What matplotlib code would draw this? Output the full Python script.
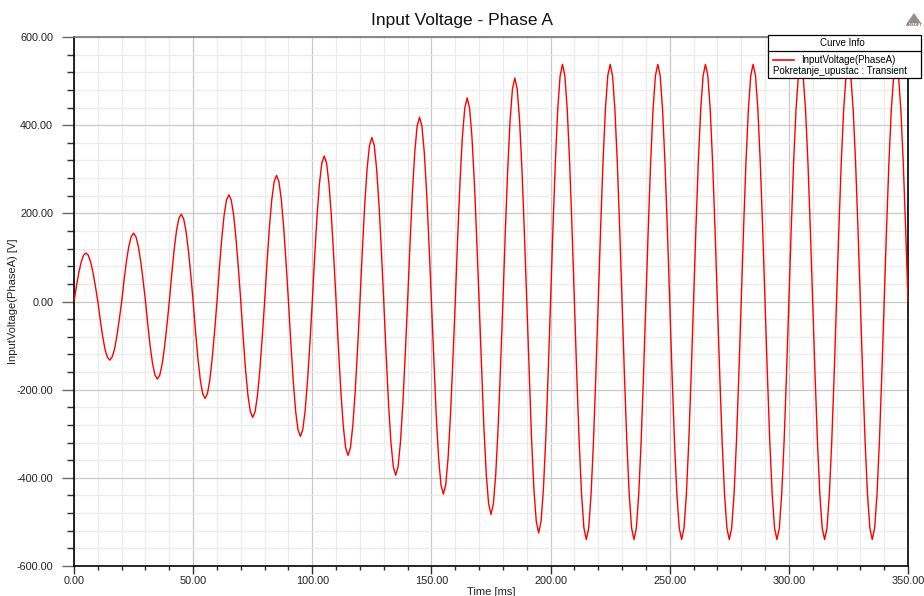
import numpy as np
import matplotlib
matplotlib.use("Agg")
import matplotlib.pyplot as plt
from matplotlib.ticker import MultipleLocator, FormatStrFormatter
from matplotlib.patches import Rectangle, Polygon
from matplotlib.lines import Line2D

plt.rcParams["font.family"] = ["Liberation Sans", "DejaVu Sans"]

# ---------------- data ----------------
title = "Input Voltage - Phase A"
x_label = "Time [ms]"
y_label = "InputVoltage(PhaseA) [V]"
legend_title = "Curve Info"
series_name = "InputVoltage(PhaseA)"
setup_name = "Pokretanje_upustac : Transient"

sample_step_ms = 1.0
# InputVoltage(PhaseA) samples in V, one row per 10 ms half-cycle
voltage_rows = [
    [0, 34, 65, 89, 105, 110, 105, 89, 65, 34],
    [0, -41, -78, -108, -126, -133, -126, -108, -78, -41],
    [0, 48, 91, 125, 147, 155, 147, 125, 91, 48],
    [0, -54, -103, -142, -167, -176, -167, -142, -103, -54],
    [0, 61, 116, 160, 188, 198, 188, 160, 116, 61],
    [0, -68, -129, -178, -209, -220, -209, -178, -129, -68],
    [0, 75, 142, 196, 230, 242, 230, 196, 142, 75],
    [0, -81, -155, -213, -250, -263, -250, -213, -155, -81],
    [0, 88, 168, 231, 272, 286, 272, 231, 168, 88],
    [0, -95, -180, -248, -291, -306, -291, -248, -180, -95],
    [0, 102, 194, 267, 314, 330, 314, 267, 194, 102],
    [0, -108, -205, -282, -332, -349, -332, -282, -205, -108],
    [0, 115, 219, 301, 354, 372, 354, 301, 219, 115],
    [0, -122, -232, -319, -375, -394, -375, -319, -232, -122],
    [0, 129, 246, 338, 398, 418, 398, 338, 246, 129],
    [0, -135, -257, -354, -416, -437, -416, -354, -257, -135],
    [0, 143, 272, 374, 439, 462, 439, 374, 272, 143],
    [0, -149, -284, -391, -459, -483, -459, -391, -284, -149],
    [0, 157, 298, 410, 482, 507, 482, 410, 298, 157],
    [0, -162, -309, -425, -499, -525, -499, -425, -309, -162],
    [0, 166, 316, 435, 512, 538, 512, 435, 316, 166],
    [0, -167, -318, -437, -514, -540, -514, -437, -318, -167],
    [0, 166, 316, 435, 512, 538, 512, 435, 316, 166],
    [0, -167, -318, -437, -514, -540, -514, -437, -318, -167],
    [0, 166, 316, 435, 512, 538, 512, 435, 316, 166],
    [0, -167, -318, -437, -514, -540, -514, -437, -318, -167],
    [0, 166, 316, 435, 512, 538, 512, 435, 316, 166],
    [0, -167, -318, -437, -514, -540, -514, -437, -318, -167],
    [0, 166, 316, 435, 512, 538, 512, 435, 316, 166],
    [0, -167, -318, -437, -514, -540, -514, -437, -318, -167],
    [0, 166, 316, 435, 512, 538, 512, 435, 316, 166],
    [0, -167, -318, -437, -514, -540, -514, -437, -318, -167],
    [0, 166, 316, 435, 512, 538, 512, 435, 316, 166],
    [0, -167, -318, -437, -514, -540, -514, -437, -318, -167],
    [0, 166, 316, 435, 512, 538, 512, 435, 316, 166],
]
voltage_end = [0]

x_range = [0, 350]
y_range = [-600, 600]
x_major_step, x_minor_step = 50, 10
y_major_step, y_minor_step = 200, 40

voltage = np.concatenate([np.ravel(voltage_rows), voltage_end]).astype(float)
time_ms = np.arange(len(voltage)) * sample_step_ms

# ---------------- figure ----------------
W, H = 924, 596
fig = plt.figure(figsize=(W / 100, H / 100), dpi=100)
fig.patch.set_facecolor("white")

def fx(x):
    return x / W

def fy(y):
    return 1 - y / H

ax = fig.add_axes([fx(74), fy(566), (908 - 74) / W, (566 - 37) / H])

ax.plot(time_ms, voltage, color="#ff0000", lw=1.0, zorder=3)

ax.set_xlim(*x_range)
ax.set_ylim(*y_range)
ax.xaxis.set_major_locator(MultipleLocator(x_major_step))
ax.xaxis.set_minor_locator(MultipleLocator(x_minor_step))
ax.yaxis.set_major_locator(MultipleLocator(y_major_step))
ax.yaxis.set_minor_locator(MultipleLocator(y_minor_step))
ax.xaxis.set_major_formatter(FormatStrFormatter("%.2f"))
ax.yaxis.set_major_formatter(FormatStrFormatter("%.2f"))

ax.set_axisbelow(True)
ax.grid(which="minor", color="#ebebeb", lw=0.9)
ax.grid(which="major", color="#c8c8c8", lw=0.9)

ax.tick_params(axis="y", which="major", length=9, width=1.0, color="#6a6a6a",
               pad=6, labelsize=7.8, labelcolor="#222222")
ax.tick_params(axis="y", which="minor", length=5, width=1.0, color="#303030")
ax.tick_params(axis="x", which="major", length=5.5, width=1.0, color="#303030",
               pad=2, labelsize=7.8, labelcolor="#222222")
ax.tick_params(axis="x", which="minor", length=3, width=1.0, color="#303030")

for s in ["left", "bottom", "right"]:
    ax.spines[s].set_color("black")
    ax.spines[s].set_linewidth(1.2)
ax.spines["top"].set_color("#777777")
ax.spines["top"].set_linewidth(1.2)

ax.set_xlabel(x_label, fontsize=8, color="#222222")
ax.xaxis.set_label_coords(0.5, (566 - 587) / 529)
ax.set_ylabel(y_label, fontsize=8, color="#222222")
ax.yaxis.set_label_coords((18.5 - 74) / 834, 0.5)

fig.text(fx(462), fy(20), title, ha="center", va="center", fontsize=12.5,
         color="#111111")

# ---------------- legend box (Curve Info) ----------------
fig.add_artist(Rectangle((fx(768), fy(78)), (921 - 768) / W, (78 - 35) / H,
                         transform=fig.transFigure, facecolor="white",
                         edgecolor="black", lw=0.9, zorder=5))
fig.add_artist(Line2D([fx(768), fx(921)], [fy(51), fy(51)],
                      transform=fig.transFigure, color="black", lw=0.9, zorder=6))
fig.text(fx(842), fy(43), legend_title, ha="center", va="center", fontsize=7,
         zorder=7)
fig.add_artist(Line2D([fx(773), fx(794)], [fy(60), fy(60)],
                      transform=fig.transFigure, color="#ff0000", lw=1.2, zorder=7))
fig.text(fx(801), fy(60), series_name, ha="left", va="center", fontsize=7,
         zorder=7)
fig.text(fx(773), fy(71), setup_name, ha="left", va="center", fontsize=7,
         zorder=7)

# ---------------- small logo ----------------
fig.add_artist(Polygon([(fx(907), fy(23)), (fx(921), fy(23)), (fx(914), fy(13))],
                       closed=True, transform=fig.transFigure,
                       facecolor="#9a8a8a", edgecolor="none", zorder=5))
fig.text(fx(914), fy(25.5), "ANSOFT", ha="center", va="center", fontsize=3,
         color="#666666", fontweight="bold")

fig.savefig("out.png", dpi=100, facecolor="white")
